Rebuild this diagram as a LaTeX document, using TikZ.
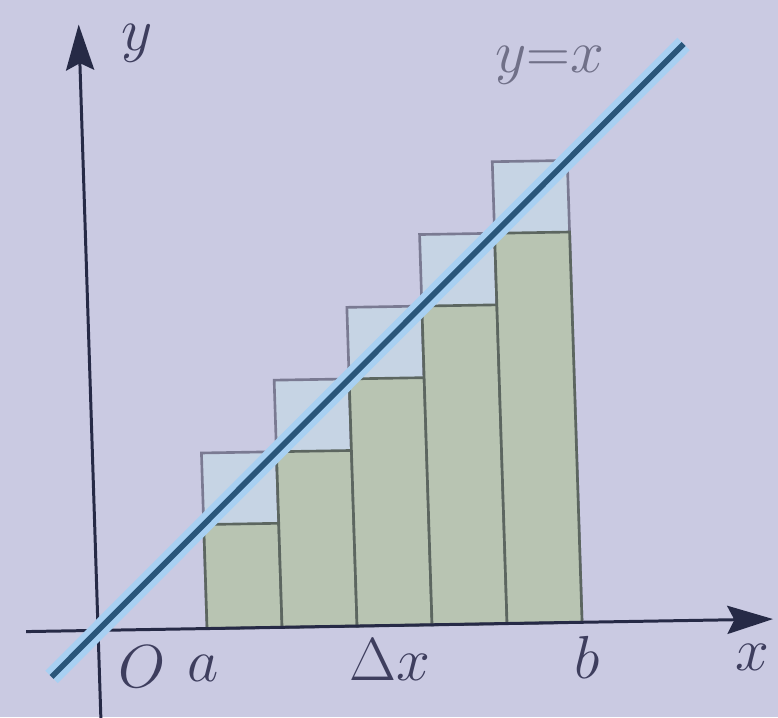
\documentclass[tikz,border=0pt]{standalone}
\usetikzlibrary{arrows.meta}
\definecolor{bg}{RGB}{202,202,226}
\definecolor{barfill}{RGB}{184,196,178}
\definecolor{upfill}{RGB}{198,212,228}
\definecolor{baredge}{RGB}{92,102,96}
\definecolor{upedge}{RGB}{122,122,146}
\definecolor{axiscol}{RGB}{38,42,70}
\definecolor{glowcol}{RGB}{168,208,242}
\definecolor{corecol}{RGB}{42,86,122}
\definecolor{labcol}{RGB}{62,62,94}
\definecolor{lightlab}{RGB}{112,112,136}
\begin{document}
\begin{tikzpicture}[x=0.01cm,y=-0.01cm,
  lab/.style={text=labcol, font=\fontsize{16}{18}\selectfont, inner sep=0pt},
  upperbox/.style={fill=upfill, draw=upedge, line width=0.75pt, line join=miter},
  lowerbox/.style={fill=barfill, draw=baredge, line width=0.75pt, line join=miter},
  axisline/.style={draw=axiscol, line width=0.85pt, -{Stealth[length=13pt,width=8pt,inset=2pt]}},
  glowline/.style={draw=glowcol, line width=5pt},
  coreline/.style={draw=corecol, line width=1.6pt}]
\fill[bg] (0,0) rectangle (778,717);
\useasboundingbox (0,0) rectangle (778,717);
\begin{scope}[shift={(0.98cm,-6.30cm)}, x={(0.01cm,0.00017cm)}, y={(-0.00030cm,0.00953cm)}]
  \foreach \l/\r in {109/184,184/259,259/334,334/409,409/484}{
    \path[upperbox] (\l,0) -- (\r,0) -- (\r,\r) -- (\l,\r) -- cycle;
  }
  \foreach \l/\r in {109/184,184/259,259/334,334/409,409/484}{
    \path[lowerbox] (\l,0) -- (\r,0) -- (\r,\l) -- (\l,\l) -- cycle;
  }
  \coordinate (xstart) at (-72,0);
  \coordinate (xend) at (675,0);
  \coordinate (ystart) at (0,-92);
  \coordinate (yend) at (0,635);
  \coordinate (lstart) at (-48,-48);
  \coordinate (lend) at (604,604);
  \draw[axisline] (xstart) -- (xend);
  \draw[axisline] (ystart) -- (yend);
  \draw[glowline] (lstart) -- (lend);
  \draw[coreline] (lstart) -- (lend);
\end{scope}
\node[lab] (ylab) at (137,43) {$y$};
\node[lab, text=lightlab] (linelab) at (550,65) {$y{=}x$};
\node[lab] (olab) at (142,667) {$O$};
\node[lab] (alab) at (203,668) {$a$};
\node[lab] (dxlab) at (390,660) {$\Delta x$};
\node[lab] (blab) at (587,657) {$b$};
\node[lab] (xlab) at (752,657) {$x$};
\end{tikzpicture}
\end{document}
